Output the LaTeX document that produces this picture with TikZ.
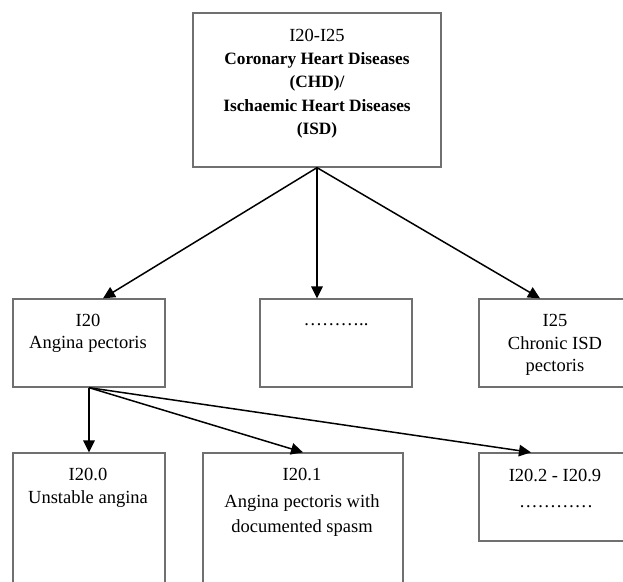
\documentclass[tikz,border=0pt]{standalone}
\usepackage{fontspec}
\setmainfont{Liberation Serif}
\usetikzlibrary{arrows.meta}
\definecolor{boxgray}{HTML}{707070}
\begin{document}
\begin{tikzpicture}[x=1pt,y=-1pt,
  box/.style={draw=boxgray, line width=1.3pt, inner sep=0pt},
  reg/.style={anchor=base, inner sep=0pt, font=\fontsize{18.5}{22}\selectfont},
  bld/.style={anchor=base, inner sep=0pt, font=\fontsize{17.3}{22}\selectfont\bfseries},
  arr/.style={draw=black, line width=1.5pt, -{Triangle[length=12pt,width=11.5pt]}}]
\clip (0,0) rectangle (623,581);
\fill[white] (0,0) rectangle (623,581);
% boxes
\node[box, minimum width=248, minimum height=154] (top) at (317,90) {};
\node[box, minimum width=152, minimum height=88] (m1) at (89,343) {};
\node[box, minimum width=152, minimum height=88] (m2) at (336,343) {};
\node[box, minimum width=152, minimum height=88] (m3) at (555,343) {};
\node[box, minimum width=152, minimum height=148] (b1) at (89,527) {};
\node[box, minimum width=200, minimum height=148] (b2) at (303,527) {};
\node[box, minimum width=152, minimum height=88] (b3) at (555,497) {};
% texts
\node[reg] (top1) at (317,41) {I20-I25};
\node[bld] (top2) at (317,64) {Coronary Heart Diseases};
\node[bld] (top3) at (317,87) {(CHD)/};
\node[bld] (top4) at (317,111) {Ischaemic Heart Diseases};
\node[bld] (top5) at (317,134) {(ISD)};
\node[reg] (m1a) at (88,326) {I20};
\node[reg] (m1b) at (88,348) {Angina pectoris};
\node[reg] (m2a) at (336,325) {………..};
\node[reg] (m3a) at (555,326) {I25};
\node[reg] (m3b) at (555,349) {Chronic ISD};
\node[reg] (m3c) at (555,371) {pectoris};
\node[reg] (b1a) at (88,480) {I20.0};
\node[reg] (b1b) at (88,503) {Unstable angina};
\node[reg] (b2a) at (302,480) {I20.1};
\node[reg] (b2b) at (302,507) {Angina pectoris with};
\node[reg] (b2c) at (302,532) {documented spasm};
\node[reg] (b3a) at (555,481) {I20.2 - I20.9};
\node[reg] (b3b) at (556,507) {…………};
% connectors
\draw[arr] (top.south) -- ([xshift=14]m1.north);
\draw[arr] (top.south) -- (top.south |- m2.north);
\draw[arr] (top.south) -- ([xshift=-15]m3.north);
\draw[arr] (m1.south) -- (m1.south |- b1.north);
\draw[arr] (m1.south) -- (b2.north);
\draw[arr] (m1.south) -- ([xshift=-24]b3.north);
\end{tikzpicture}
\end{document}
